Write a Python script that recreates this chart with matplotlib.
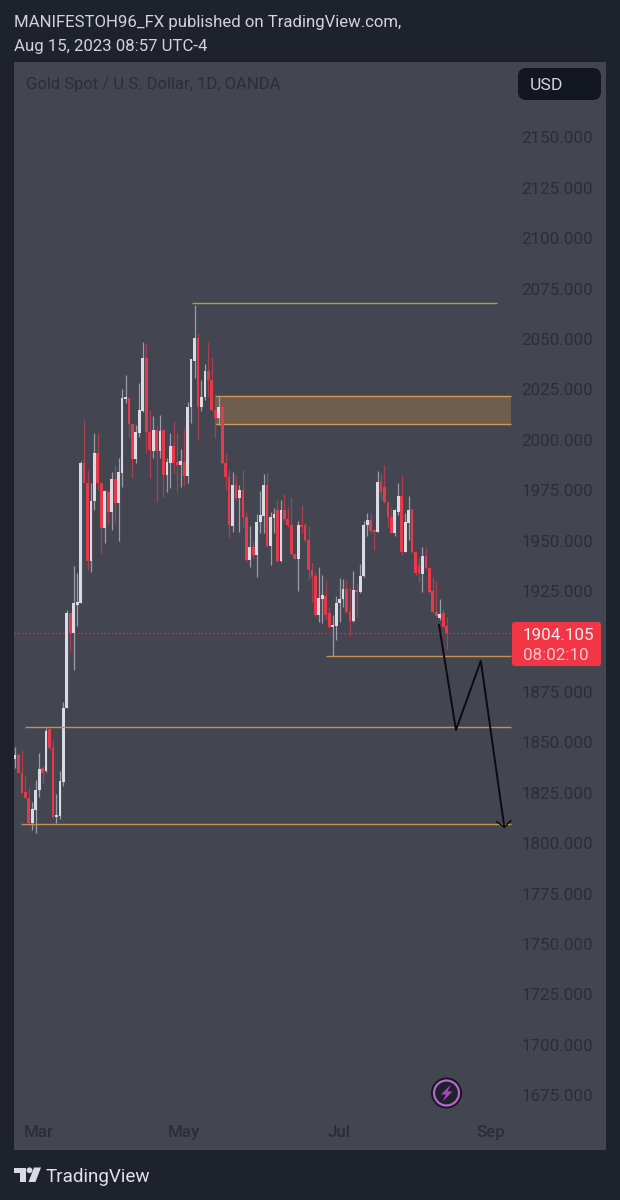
from matplotlib import pyplot as plt
from matplotlib.patches import Circle, FancyBboxPatch, Polygon, Rectangle
import numpy as np

plt.rcParams['font.family'] = ['Roboto', 'DejaVu Sans']

# one letter per daily candle, W = up (white), R = down (red)
candle_dir = ("WRRRRWWWRW" "RRWWWWRWWW" "RRWWRRWRWR" "WWWRRWWWRR" "WRWRWWRRWR"
              "WWWRWWRRRW" "RRRWRWRRWR" "WWWRWWRWRR" "RRWRRRRRWW" "RRWWWWRRWR"
              "WWWRRWRRRR" "WWRWWRRRWR" "RRRWRR")

highs = [1847.7, 1844.5, 1846.2, 1833.8, 1828.0, 1820.4, 1831.3, 1844.7, 1838.8, 1857.0,
         1858.0, 1851.1, 1824.4, 1835.8, 1870.0, 1915.6, 1914.6, 1937.4, 1934.0, 1989.5,
         2009.9, 1985.1, 1978.8, 2003.3, 2003.3, 1979.3, 1975.2, 1974.7, 1984.1, 1987.6,
         1990.9, 2025.1, 2032.2, 2021.1, 2007.7, 2007.4, 2028.4, 2048.4, 2047.6, 2014.8,
         2011.9, 2007.4, 2012.4, 2005.2, 1990.9, 2003.6, 2009.5, 2003.3, 1995.3, 2006.6,
         2019.0, 2040.0, 2066.9, 2053.2, 2029.7, 2037.7, 2048.7, 2041.3, 2022.3, 2021.8,
         2018.1, 1993.3, 1985.1, 1983.9, 1982.6, 1977.6, 1985.6, 1964.4, 1957.3, 1949.5,
         1963.2, 1974.8, 1983.1, 1983.4, 1964.4, 1966.4, 1970.2, 1970.2, 1973.2, 1966.9,
         1971.0, 1943.7, 1959.9, 1967.7, 1958.6, 1957.3, 1938.8, 1934.6, 1937.1, 1933.0,
         1930.5, 1917.3, 1913.2, 1922.6, 1931.3, 1930.8, 1930.5, 1927.2, 1935.1, 1928.9,
         1938.4, 1959.8, 1963.9, 1963.9, 1955.6, 1984.7, 1983.4, 1987.5, 1969.7, 1966.9,
         1965.6, 1978.5, 1982.6, 1963.6, 1972.2, 1965.9, 1944.9, 1942.1, 1947.0, 1946.7,
         1937.1, 1932.2, 1930.2, 1921.1, 1916.0, 1912.3]
body_tops = [1843.7, 1843.7, 1834.8, 1825.3, 1822.4, 1816.9, 1826.4, 1836.8, 1837.3, 1855.6,
             1856.5, 1847.2, 1814.0, 1830.8, 1867.0, 1914.1, 1914.1, 1919.0, 1919.6, 1988.6,
             1988.4, 1978.8, 1969.9, 1993.3, 1993.3, 1978.8, 1974.7, 1974.3, 1980.6, 1980.6,
             1984.1, 2020.6, 2021.1, 2020.6, 2007.7, 2003.8, 2014.8, 2040.5, 2040.5, 2004.1,
             2004.9, 2004.9, 2004.6, 2004.9, 1988.9, 1997.0, 1997.0, 1989.2, 1989.5, 1989.2,
             2016.5, 2040.0, 2050.4, 2050.4, 2021.1, 2034.3, 2034.3, 2029.7, 2014.8, 2016.5,
             2016.5, 1988.4, 1981.4, 1977.6, 1977.6, 1975.2, 1975.2, 1961.9, 1947.0, 1947.0,
             1959.4, 1962.8, 1977.6, 1977.6, 1961.9, 1963.2, 1965.2, 1965.2, 1965.2, 1960.6,
             1957.8, 1943.4, 1957.8, 1957.8, 1957.8, 1950.4, 1935.5, 1932.5, 1921.4, 1923.1,
             1922.7, 1914.0, 1908.2, 1919.3, 1921.1, 1925.9, 1925.9, 1914.5, 1925.6, 1925.6,
             1932.5, 1957.8, 1960.3, 1960.3, 1955.3, 1979.3, 1979.3, 1976.8, 1969.4, 1961.9,
             1965.2, 1972.3, 1972.3, 1959.4, 1965.2, 1965.6, 1944.6, 1938.0, 1942.6, 1942.6,
             1936.6, 1925.0, 1914.5, 1913.6, 1914.0, 1907.7]
body_bots = [1841.7, 1834.8, 1824.8, 1822.4, 1810.0, 1810.0, 1816.4, 1826.4, 1834.8, 1835.8,
             1847.2, 1813.0, 1813.0, 1813.5, 1830.3, 1867.0, 1904.2, 1904.2, 1918.0, 1919.1,
             1978.8, 1940.1, 1940.1, 1969.9, 1978.8, 1956.2, 1956.2, 1964.4, 1964.4, 1968.5,
             1968.5, 1983.8, 2020.1, 2007.7, 1990.5, 1990.5, 2003.6, 2014.5, 2004.1, 1995.0,
             1994.7, 1994.7, 1994.7, 1982.6, 1982.6, 1988.7, 1988.7, 1987.6, 1987.6, 1982.3,
             1982.3, 2016.2, 2039.3, 2016.5, 2016.2, 2021.1, 2029.7, 2014.8, 2010.7, 2010.7,
             1988.4, 1981.4, 1957.8, 1957.3, 1971.0, 1971.3, 1961.9, 1940.4, 1940.4, 1942.9,
             1942.9, 1959.1, 1962.4, 1947.5, 1947.5, 1961.4, 1940.1, 1940.1, 1960.6, 1957.8,
             1943.4, 1940.9, 1940.9, 1956.6, 1950.4, 1935.5, 1932.2, 1913.1, 1913.1, 1921.1,
             1913.2, 1907.4, 1907.4, 1907.7, 1919.3, 1921.1, 1914.5, 1910.3, 1910.3, 1924.7,
             1924.7, 1932.5, 1957.8, 1955.0, 1954.5, 1954.5, 1974.3, 1969.4, 1961.9, 1954.0,
             1954.0, 1964.4, 1944.6, 1944.6, 1958.9, 1944.6, 1933.8, 1933.8, 1933.5, 1936.3,
             1924.7, 1914.5, 1912.6, 1911.5, 1907.4, 1904.1]
lows = [1837.3, 1834.8, 1824.8, 1822.4, 1809.0, 1806.5, 1805.0, 1822.9, 1829.8, 1835.3,
        1846.2, 1812.5, 1810.0, 1812.0, 1828.4, 1867.0, 1894.8, 1885.9, 1907.7, 1919.0,
        1978.5, 1935.5, 1934.3, 1965.2, 1975.2, 1943.7, 1948.7, 1958.6, 1955.3, 1958.6,
        1950.0, 1976.8, 2018.1, 2001.6, 1981.8, 1988.7, 2001.6, 2014.0, 1993.4, 1981.0,
        1990.9, 1969.4, 1990.9, 1971.9, 1974.3, 1976.0, 1983.4, 1974.3, 1976.5, 1977.6,
        1978.5, 2008.2, 2030.5, 2000.0, 2014.5, 2019.8, 2021.5, 2014.5, 2000.8, 2007.4,
        1988.1, 1975.2, 1952.0, 1954.5, 1970.2, 1954.5, 1957.0, 1939.6, 1937.1, 1941.2,
        1932.2, 1953.6, 1953.6, 1947.0, 1938.0, 1953.6, 1939.6, 1939.6, 1959.4, 1957.0,
        1942.9, 1940.4, 1925.2, 1953.6, 1949.5, 1930.5, 1919.8, 1912.7, 1909.8, 1909.0,
        1910.7, 1906.5, 1893.0, 1900.7, 1909.8, 1917.3, 1914.0, 1902.7, 1909.8, 1912.3,
        1924.2, 1932.2, 1952.3, 1953.7, 1945.4, 1954.2, 1970.2, 1968.5, 1957.0, 1953.7,
        1952.3, 1962.7, 1942.9, 1944.2, 1950.4, 1943.7, 1933.0, 1929.7, 1924.7, 1936.0,
        1923.9, 1914.0, 1912.3, 1910.7, 1907.0, 1896.3]

# 1900 sits behind the price tag in the reference, so no label for it
price_ticks = [1675, 1700, 1725, 1750, 1775, 1800, 1825, 1850, 1875, 1925, 1950,
               1975, 2000, 2025, 2050, 2075, 2100, 2125, 2150]
month_pos = [7, 49, 94, 137.8]
month_names = ['Mar', 'May', 'Jul', 'Sep']

last_price = 1904.105
level_prices = [2067.8, 1893.0, 1857.7, 1809.5]
level_starts = [51.2, 90, 2.9, 1.7]
level_ends = [139.6, 143.6, 143.6, 143.6]
zone_low, zone_high = 2008.0, 2021.8
zone_start, zone_end = 57.9, 143.6

path_bars = [122.8, 127.7, 134.9, 141.7]
path_prices = [1908.2, 1856.1, 1890.4, 1808.0]
head_bars = [139.5, 141.7, 143.6]
head_prices = [1810.6, 1808.0, 1811.1]

BG = '#1e222d'
PANE = '#434651'
DARK_TXT = '#2a2e39'
UP = '#d8dbe4'
UP_WICK = '#9a9da7'
DOWN = '#e63a4b'
DOWN_WICK = '#a8404e'
LEVEL = '#c2934f'

fig = plt.figure(figsize=(6.2, 12), dpi=100, facecolor=BG)
# pane sits at x 14-606, y 62-1150 in pixels
ax = fig.add_axes([14 / 620, 1 - 1150 / 1200, 592 / 620, 1088 / 1200], facecolor=PANE)
ax.set_xlim(-0.29, 171.15)
ax.set_ylim(1647.8, 2187.4)
for s in ax.spines.values():
    s.set_visible(False)

ax.yaxis.tick_right()
ax.set_yticks(price_ticks)
ax.set_yticklabels([f'{p:.3f}' for p in price_ticks], ha='right', fontsize=12.25, color=DARK_TXT)
ax.tick_params(axis='y', length=0, pad=-9.4)
ax.set_xticks(month_pos)
ax.set_xticklabels(month_names, fontsize=12.2, color=DARK_TXT, fontweight='medium')
ax.tick_params(axis='x', length=0, pad=-18)

# candles
bars = np.arange(len(candle_dir))
is_up = np.array([c == 'W' for c in candle_dir])
highs = np.array(highs)
lows = np.array(lows)
body_tops = np.array(body_tops)
body_bots = np.array(body_bots)
ax.vlines(bars[is_up], lows[is_up], highs[is_up], color=UP_WICK, lw=0.9, zorder=3)
ax.vlines(bars[~is_up], lows[~is_up], highs[~is_up], color=DOWN_WICK, lw=0.9, zorder=3)
ax.bar(bars[is_up], (body_tops - body_bots)[is_up], 0.8, bottom=body_bots[is_up], color=UP, zorder=4)
ax.bar(bars[~is_up], (body_tops - body_bots)[~is_up], 0.8, bottom=body_bots[~is_up], color=DOWN, zorder=4)

# drawings
ax.add_patch(Rectangle((zone_start, zone_low), zone_end - zone_start, zone_high - zone_low,
                       facecolor='#6f5e4c', edgecolor='none', zorder=2))
ax.hlines([zone_low, zone_high], zone_start, zone_end, color='#cf9a58', lw=1.0, zorder=2.5)
ax.hlines(level_prices, level_starts, level_ends, color=LEVEL, lw=1.0, zorder=5)
ax.plot([-0.29, 143.6], [last_price, last_price], color='#bd4350', lw=0.9, ls=(0, (1, 2)), zorder=2)
ax.plot(path_bars, path_prices, color='#0b0b0e', lw=1.4, zorder=6)
ax.plot(head_bars, head_prices, color='#0b0b0e', lw=1.1, zorder=6)

# overlay in pixel coords for the page furniture
ov = fig.add_axes([0, 0, 1, 1])
ov.set_xlim(0, 620)
ov.set_ylim(1200, 0)
ov.axis('off')

ov.text(14, 23, 'MANIFESTOH96_FX published on TradingView.com,', fontsize=12.1, color='#d1d4dc', va='center')
ov.text(14, 46.5, 'Aug 15, 2023 08:57 UTC-4', fontsize=12.1, color='#d1d4dc', va='center')
ov.text(26, 84.5, 'Gold Spot / U.S. Dollar, 1D, OANDA', fontsize=12, color=DARK_TXT, va='center')

ov.add_patch(FancyBboxPatch((522, 72), 75, 24, boxstyle='round,pad=0,rounding_size=4',
                            mutation_aspect=1, facecolor='#131722', edgecolor='#131722', lw=8 * 0.72))
ov.text(529.5, 85.5, 'USD', fontsize=12.6, color='#d1d4dc', va='center')

ov.add_patch(FancyBboxPatch((513, 623), 87, 42, boxstyle='round,pad=0,rounding_size=2',
                            facecolor='#f23645', edgecolor='#f23645', lw=1.5))
ov.text(523, 635, '1904.105', fontsize=12.25, color='#fbeef0', va='center')
ov.text(523, 655, '08:02:10', fontsize=12.25, color='#fcc6cb', va='center')

# lightning badge
ov.add_patch(Circle((446.5, 1093), 15.5, facecolor='#131722', edgecolor='none'))
ov.add_patch(Circle((446.5, 1093), 12.5, facecolor='#1e222d', edgecolor='#ba68c8', lw=1.6))
ov.add_patch(Polygon([(451, 1084.5), (441, 1094.5), (446, 1094.5), (442.5, 1101.5), (452.5, 1091.5), (447.5, 1091.5)],
                     facecolor='#ab47bc', edgecolor='none'))

# TradingView logo
LOGO = '#d8dbe3'
ov.add_patch(Polygon([(14, 1167.5), (25.5, 1167.5), (25.5, 1182), (19.5, 1182), (19.5, 1172.5), (14, 1172.5)],
                     facecolor=LOGO, edgecolor='none'))
ov.add_patch(Circle((29.5, 1170.3), 2.9, facecolor=LOGO, edgecolor='none'))
ov.add_patch(Polygon([(34, 1167.5), (41, 1167.5), (35.5, 1182), (28.5, 1182)], facecolor=LOGO, edgecolor='none'))
ov.text(46, 1176.5, 'TradingView', fontsize=13.6, color='#dfe2ea', va='center')

fig.savefig('out.png', dpi=100, facecolor=BG)
